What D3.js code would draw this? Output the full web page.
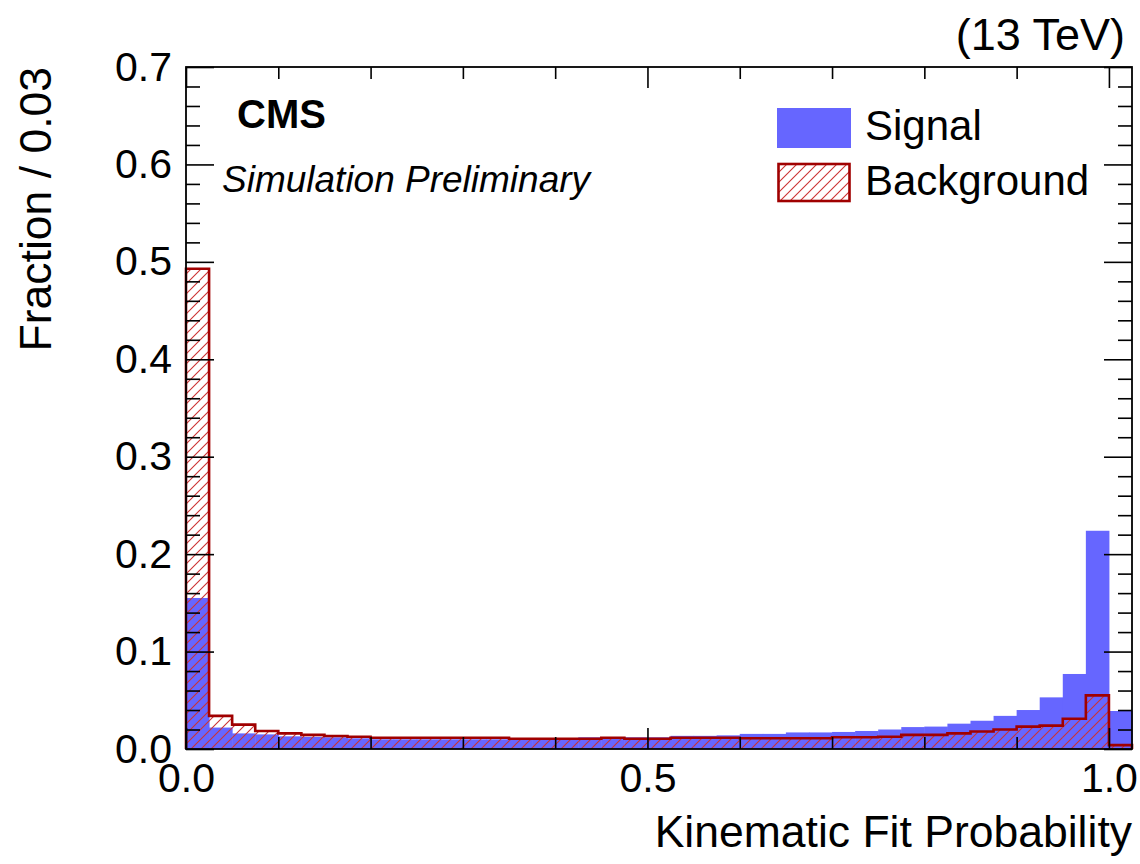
<!DOCTYPE html>
<html>
<head>
<meta charset="utf-8">
<script src="https://cdn.jsdelivr.net/npm/d3@7"></script>
<style>
  body { margin: 0; background: #fff; }
  svg text { font-family: "Liberation Sans", Arial, Helvetica, sans-serif; fill: #000; }
</style>
</head>
<body>
<div id="chart"></div>
<script>
'use strict';

/* Histogram data, bins of 0.025 from 0 to 1.025 */
var binWidth = 0.025;
var signal = [
  0.155, 0.022, 0.016, 0.015, 0.013, 0.0125, 0.012, 0.011, 0.010, 0.010,
  0.010, 0.010, 0.010, 0.010, 0.010, 0.011, 0.011, 0.012, 0.012, 0.012,
  0.012, 0.0135, 0.0135, 0.014, 0.0155, 0.0155, 0.017, 0.017, 0.0175, 0.0185,
  0.020, 0.0225, 0.023, 0.026, 0.029, 0.034, 0.040, 0.053, 0.077, 0.224,
  0.039
];
var background = [
  0.493, 0.034, 0.025, 0.0185, 0.016, 0.0145, 0.0133, 0.0125, 0.0115, 0.0115,
  0.0115, 0.0115, 0.0115, 0.0115, 0.0105, 0.0105, 0.0105, 0.0105, 0.0115, 0.0105,
  0.0105, 0.0115, 0.0115, 0.0115, 0.011, 0.011, 0.011, 0.011, 0.012, 0.012,
  0.0125, 0.0145, 0.0145, 0.016, 0.018, 0.020, 0.023, 0.024, 0.031, 0.055,
  0.004
];
var xMajor = [0, 0.5, 1.0];
var xMinor = [0.1, 0.2, 0.3, 0.4, 0.6, 0.7, 0.8, 0.9];
var yMajor = [0, 0.1, 0.2, 0.3, 0.4, 0.5, 0.6, 0.7];
var yMinor = d3.range(0, 0.7001, 0.02).filter(function(d) {
  return Math.abs(d * 10 - Math.round(d * 10)) > 1e-6;
});
var legendItems = ["Signal", "Background"];

var width = 1140, height = 864,
    pLeft = 186, pRight = 1132, pTop = 67, pBottom = 749;

var blue = "#6666ff", darkRed = "#a00000", hatchRed = "#cc3333";

var svg = d3.select("#chart").append("svg")
    .attr("width", width)
    .attr("height", height);

var x = d3.scaleLinear().domain([0, binWidth * signal.length]).range([pLeft, pRight]),
    y = d3.scaleLinear().domain([0, 0.7]).range([pBottom, pTop]);

/* hatch pattern like ROOT fill style 3004 */
var pat = svg.append("defs").append("pattern")
    .attr("id", "hatch")
    .attr("patternUnits", "userSpaceOnUse")
    .attr("width", 10)
    .attr("height", 10);
pat.append("path")
    .attr("d", "M-1,11 L11,-1 M-6,6 L6,-6 M4,16 L16,4")
    .attr("stroke", hatchRed)
    .attr("stroke-width", 1.1);

var bins = signal.map(function(s, i) {
  return { x0: i * binWidth, x1: (i + 1) * binWidth, sig: s, bkg: background[i] };
});

var plot = svg.append("g");

plot.selectAll("rect.sig")
    .data(bins)
  .enter().append("rect")
    .attr("class", "sig")
    .attr("x", function(d) { return x(d.x0); })
    .attr("width", function(d) { return x(d.x1) - x(d.x0) + 0.5; })
    .attr("y", function(d) { return y(d.sig); })
    .attr("height", function(d) { return y(0) - y(d.sig); })
    .style("fill", blue);

plot.selectAll("rect.bkg")
    .data(bins)
  .enter().append("rect")
    .attr("class", "bkg")
    .attr("x", function(d) { return x(d.x0); })
    .attr("width", function(d) { return x(d.x1) - x(d.x0); })
    .attr("y", function(d) { return y(d.bkg); })
    .attr("height", function(d) { return y(0) - y(d.bkg); })
    .style("fill", "url(#hatch)");

/* step outline of the background */
var pts = [[0, 0]];
bins.forEach(function(d) { pts.push([d.x0, d.bkg]); });
pts.push([bins[bins.length - 1].x1, background[background.length - 1]]);
pts.push([bins[bins.length - 1].x1, 0]);

plot.append("path")
    .datum(pts)
    .attr("d", d3.line()
      .x(function(d) { return x(d[0]); })
      .y(function(d) { return y(d[1]); })
      .curve(d3.curveStepAfter))
    .style("fill", "none")
    .style("stroke", darkRed)
    .style("stroke-width", 2.6);

/* axes: ticks point inwards, mirrored on top and right */
function ticks(axis, vals, len, labels) {
  return axis.tickValues(vals).tickSize(-len).tickSizeOuter(0)
    .tickPadding(14)
    .tickFormat(labels ? d3.format(".1f") : "");
}

function styleAxis(g) {
  g.select(".domain").remove();
  g.selectAll("line").style("stroke", "#000").style("stroke-width", 1.6);
  g.selectAll("text").style("font-size", "41px")
    .style("font-family", "'Liberation Sans', Arial, Helvetica, sans-serif");
}

svg.append("g").attr("transform", "translate(0," + pBottom + ")")
    .call(ticks(d3.axisBottom(x), xMinor, 12, false)).call(styleAxis);
svg.append("g").attr("transform", "translate(0," + pBottom + ")")
    .call(ticks(d3.axisBottom(x), xMajor, 21, true)).call(styleAxis);
svg.append("g").attr("transform", "translate(0," + pTop + ")")
    .call(ticks(d3.axisTop(x), xMinor, 12, false)).call(styleAxis);
svg.append("g").attr("transform", "translate(0," + pTop + ")")
    .call(ticks(d3.axisTop(x), xMajor, 21, false)).call(styleAxis);

svg.append("g").attr("transform", "translate(" + pLeft + ",0)")
    .call(ticks(d3.axisLeft(y), yMinor, 14, false)).call(styleAxis);
svg.append("g").attr("transform", "translate(" + pLeft + ",0)")
    .call(ticks(d3.axisLeft(y), yMajor, 28, true)).call(styleAxis);
svg.append("g").attr("transform", "translate(" + pRight + ",0)")
    .call(ticks(d3.axisRight(y), yMinor, 14, false)).call(styleAxis);
svg.append("g").attr("transform", "translate(" + pRight + ",0)")
    .call(ticks(d3.axisRight(y), yMajor, 28, false)).call(styleAxis);

svg.append("rect")
    .attr("x", pLeft).attr("y", pTop)
    .attr("width", pRight - pLeft).attr("height", pBottom - pTop)
    .style("fill", "none")
    .style("stroke", "#000")
    .style("stroke-width", 1.8);

/* titles */
svg.append("text")
    .attr("x", pRight).attr("y", 847)
    .attr("text-anchor", "end")
    .style("font-size", "44.5px")
    .text("Kinematic Fit Probability");

svg.append("text")
    .attr("transform", "translate(51," + pTop + ") rotate(-90)")
    .attr("text-anchor", "end")
    .style("font-size", "44.5px")
    .text("Fraction / 0.03");

svg.append("text")
    .attr("x", 1125).attr("y", 50)
    .attr("text-anchor", "end")
    .style("font-size", "45px")
    .text("(13 TeV)");

svg.append("text")
    .attr("x", 237).attr("y", 128)
    .style("font-size", "40px")
    .style("font-weight", "bold")
    .text("CMS");

svg.append("text")
    .attr("x", 222).attr("y", 192)
    .style("font-size", "37px")
    .style("font-style", "italic")
    .text("Simulation Preliminary");

/* legend */
var legend = svg.append("g").attr("transform", "translate(777,108)");
var rows = legend.selectAll("g")
    .data(legendItems)
  .enter().append("g")
    .attr("transform", function(d, i) { return "translate(0," + i * 56 + ")"; });

rows.append("rect")
    .attr("x", function(d, i) { return i ? 1.5 : 0; })
    .attr("y", 0)
    .attr("width", function(d, i) { return i ? 71 : 74; })
    .attr("height", function(d, i) { return i ? 37 : 40; })
    .style("fill", function(d, i) { return i ? "url(#hatch)" : blue; })
    .style("stroke", function(d, i) { return i ? darkRed : "none"; })
    .style("stroke-width", 2.6);

rows.append("text")
    .attr("x", 88)
    .attr("y", function(d, i) { return i ? 31 : 32; })
    .style("font-size", "42px")
    .text(function(d) { return d; });
</script>
</body>
</html>
